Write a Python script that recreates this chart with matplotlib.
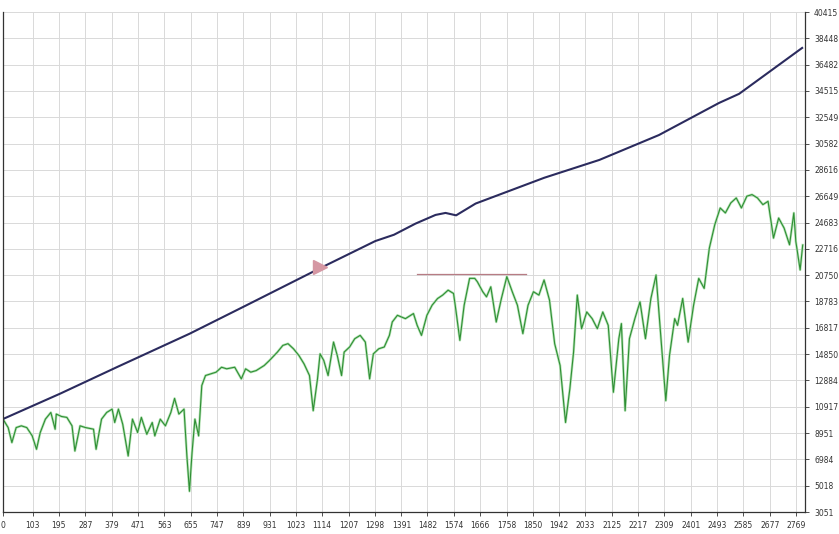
import matplotlib
matplotlib.use("Agg")
from matplotlib import pyplot as plt
import numpy as np

# blue (benchmark) line: day index, value
blue_x = [0, 200, 400, 652, 850, 1106, 1300, 1365, 1440, 1510, 1545, 1582, 1650,
          1890, 2082, 2290, 2500, 2570, 2790]
blue_y = [10000, 11900, 13900, 16380, 18500, 21260, 23300, 23770, 24600, 25250, 25400,
          25220, 26100, 28030, 29360, 31220, 33620, 34300, 37730]

# green (price) line: day index, value
green_x = [0, 18, 31, 46, 64, 83, 102, 117, 130, 148, 167, 182, 186, 204, 223, 241, 251,
           269, 288, 316, 325, 344, 362, 381, 390, 403, 418, 437, 452, 470, 483, 502, 521,
           530, 549, 567, 586, 599, 614, 632, 642, 651, 660, 670, 683, 694, 707, 725, 744,
           763, 781, 809, 832, 847, 865, 884, 912, 930, 958, 977, 995, 1014, 1033, 1051,
           1070, 1083, 1098, 1107, 1120, 1135, 1154, 1167, 1182, 1191, 1210, 1228, 1247,
           1265, 1280, 1293, 1312, 1331, 1349, 1359, 1377, 1405, 1433, 1446, 1461, 1480,
           1498, 1517, 1535, 1554, 1573, 1582, 1595, 1610, 1629, 1647, 1656, 1675, 1688,
           1703, 1722, 1740, 1759, 1778, 1796, 1815, 1833, 1852, 1871, 1889, 1908, 1926,
           1945, 1964, 1979, 1992, 2005, 2020, 2038, 2057, 2075, 2094, 2113, 2131, 2150,
           2159, 2172, 2187, 2206, 2224, 2243, 2262, 2280, 2299, 2314, 2327, 2345, 2355,
           2373, 2392, 2411, 2429, 2448, 2466, 2485, 2504, 2522, 2541, 2560, 2578, 2597,
           2615, 2634, 2653, 2671, 2690, 2708, 2727, 2746, 2761, 2768, 2783, 2792]
green_y = [9990, 9360, 8240, 9360, 9490, 9360, 8740, 7740, 8990, 9990, 10490, 9240, 10370,
           10190, 10120, 9490, 7610, 9490, 9360, 9240, 7740, 9990, 10490, 10740, 9740,
           10740, 9610, 7240, 9990, 8990, 10120, 8860, 9740, 8740, 9990, 9490, 10490, 11540,
           10370, 10740, 7240, 4600, 7490, 9990, 8740, 12500, 13250, 13370, 13500, 13870,
           13750, 13870, 13000, 13750, 13500, 13620, 14000, 14370, 15000, 15500, 15630,
           15250, 14750, 14120, 13250, 10620, 13000, 14870, 14370, 13250, 15750, 14750,
           13250, 15000, 15380, 16000, 16250, 15750, 13000, 14870, 15250, 15380, 16250,
           17250, 17750, 17500, 17880, 17000, 16250, 17750, 18500, 19000, 19260, 19630,
           19380, 18000, 15880, 18500, 20510, 20510, 20260, 19510, 19130, 19880, 17250,
           19000, 20640, 19510, 18500, 16380, 18500, 19510, 19260, 20390, 18880, 15630,
           14000, 9740, 12250, 15000, 19260, 16750, 18000, 17500, 16750, 18000, 17000,
           12000, 16000, 17130, 10620, 16000, 17500, 18760, 16000, 19010, 20760, 15500,
           11370, 14750, 17500, 17000, 19010, 15750, 18500, 20510, 19760, 22770, 24520,
           25770, 25400, 26150, 26520, 25770, 26650, 26770, 26520, 26020, 26270, 23520,
           25020, 24270, 23020, 25400, 23270, 21140, 23000]

marker_x = [1106]
marker_y = [21360]
level_x = [1444, 1827]
level_y = [20837, 20837]

xtick_vals = [0, 103, 195, 287, 379, 471, 563, 655, 747, 839, 931, 1023, 1114, 1207, 1298,
              1391, 1482, 1574, 1666, 1758, 1850, 1942, 2033, 2125, 2217, 2309, 2401, 2493,
              2585, 2677, 2769]
ytick_vals = [3051, 5018, 6984, 8951, 10917, 12884, 14850, 16817, 18783, 20750, 22716,
              24683, 26649, 28616, 30582, 32549, 34515, 36482, 38448, 40415]

fig = plt.figure(figsize=(8.39, 5.34), dpi=100)
ax = fig.add_axes([3/839, 22/534, 802/839, 500/534])

ax.plot(green_x, green_y, color='#b5e2b5', lw=1.8)
ax.plot(green_x, green_y, color='#2f8f35', lw=0.8)
ax.plot(blue_x, blue_y, color='#2b2b5e', lw=1.5)
ax.plot(level_x, level_y, color='#b77c84', lw=0.9)
ax.plot(marker_x, marker_y, marker='>', color='#d597a3', markersize=10, ls='none')

ax.set_xlim(0, 2800)
ax.set_ylim(3051, 40415)
ax.set_xticks(xtick_vals)
ax.set_xticklabels([str(v) for v in xtick_vals])
ax.set_yticks(ytick_vals)
ax.set_yticklabels([str(v) for v in ytick_vals])
ax.yaxis.tick_right()
ax.tick_params(labelsize=5.5, colors='#333333', length=3, width=0.6)
ax.grid(True, color='#d9d9d9', lw=0.7)
ax.set_axisbelow(True)
ax.spines['top'].set_visible(False)
for s in ['left', 'right', 'bottom']:
    ax.spines[s].set_color('#333333')
    ax.spines[s].set_linewidth(0.9)

fig.savefig('out.png', dpi=100)
